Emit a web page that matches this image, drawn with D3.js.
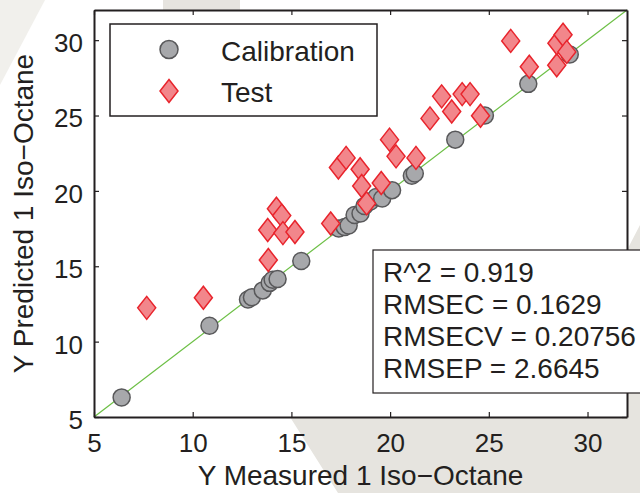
<!DOCTYPE html>
<html>
<head>
<meta charset="utf-8">
<script src="https://cdn.jsdelivr.net/npm/d3@7"></script>
<style>
  body { margin: 0; background: #fff; }
  svg { display: block; font-family: "Liberation Sans", Arial, sans-serif; }
</style>
</head>
<body>
<svg width="640" height="493"></svg>
<script>
// calibration samples: [measured, predicted]
const calibration = [
  [6.4, 6.3], [10.85, 11.05], [12.8, 12.8], [13.0, 12.95], [13.55, 13.4],
  [13.9, 13.9], [14.05, 14.1], [14.3, 14.15], [15.5, 15.35], [17.4, 17.5],
  [17.7, 17.6], [17.9, 17.7], [18.2, 18.4], [18.5, 18.5], [18.7, 19.0],
  [19.0, 19.3], [19.3, 19.6], [19.6, 19.5], [20.1, 20.05], [21.1, 21.0],
  [21.25, 21.15], [23.3, 23.4], [24.8, 25.0], [27.0, 27.1], [29.1, 29.05]
];
// test samples: [measured, predicted]
const test = [
  [7.67, 12.24], [10.54, 12.91], [13.83, 15.41], [14.24, 18.81], [14.51, 18.36],
  [13.8, 17.4], [14.57, 17.2], [15.18, 17.27], [16.99, 17.84], [17.38, 21.55],
  [17.77, 22.19], [18.48, 21.43], [18.56, 20.32], [18.81, 19.17], [19.55, 20.52],
  [19.97, 23.4], [20.3, 22.29], [21.31, 22.19], [22.02, 24.81], [22.61, 26.27],
  [23.12, 25.27], [23.65, 26.42], [24.05, 26.42], [24.58, 24.99], [26.11, 29.95],
  [27.05, 28.23], [28.44, 28.34], [28.45, 29.8], [28.76, 30.36], [28.95, 29.22]
];
const ticks = [5, 10, 15, 20, 25, 30];
const domain = [5, 32];
const legendLabels = ["Calibration", "Test"];
const stats = ["R^2 = 0.919", "RMSEC = 0.1629", "RMSECV = 0.20756", "RMSEP = 2.6645"];

const svg = d3.select("svg");
const margin = { top: 10, right: 13, bottom: 76, left: 94 };
const width = 640 - margin.left - margin.right;
const height = 493 - margin.top - margin.bottom;

// faint background shapes
svg.append("polygon")
  .attr("points", "290,417 627,417 627,250 640,225 640,493 338,493")
  .attr("fill", "#e6e4df");
svg.append("polygon")
  .attr("points", "0,0 45,0 0,85")
  .attr("fill", "#f1f0ec");
svg.append("rect")
  .attr("x", 163).attr("y", 0).attr("width", 77).attr("height", 10)
  .attr("fill", "#e6e4df");

const x = d3.scaleLinear().domain(domain).range([0, width]);
const y = d3.scaleLinear().domain(domain).range([height, 0]);

const g = svg.append("g")
  .attr("transform", "translate(" + margin.left + "," + margin.top + ")");

g.append("rect").attr("width", width).attr("height", height).attr("fill", "#fff");

// 1:1 line
g.append("line")
  .attr("x1", x(domain[0])).attr("y1", y(domain[0]))
  .attr("x2", x(domain[1])).attr("y2", y(domain[1]))
  .attr("stroke", "#6cbf45").attr("stroke-width", 1.2);

g.selectAll(".cal")
  .data(calibration)
  .enter()
  .append("circle")
  .attr("class", "cal")
  .attr("cx", d => x(d[0]))
  .attr("cy", d => y(d[1]))
  .attr("r", 8.5)
  .attr("fill", "#a7a8ab")
  .attr("stroke", "#58585a")
  .attr("stroke-width", 1.5);

const diamond = "M0,-11.5L9,0L0,11.5L-9,0Z";

g.selectAll(".test")
  .data(test)
  .enter()
  .append("path")
  .attr("class", "test")
  .attr("d", diamond)
  .attr("transform", d => "translate(" + x(d[0]) + "," + y(d[1]) + ")")
  .attr("fill", "#f2868b")
  .attr("stroke", "#e8242c")
  .attr("stroke-width", 1.5);

// axes
const styleAxis = sel => {
  sel.select(".domain").attr("stroke", "#231f20").attr("stroke-width", 2);
  sel.selectAll(".tick line").attr("stroke", "#231f20").attr("stroke-width", 1.2);
  sel.selectAll("text").attr("fill", "#231f20").attr("font-size", "26px")
    .attr("font-family", "Liberation Sans, Arial, sans-serif");
};

g.append("g")
  .attr("transform", "translate(0," + height + ")")
  .call(d3.axisBottom(x).tickValues(ticks).tickSizeInner(-5).tickSizeOuter(0).tickPadding(17))
  .call(styleAxis);

g.append("g")
  .call(d3.axisLeft(y).tickValues(ticks).tickSizeInner(-5).tickSizeOuter(0).tickPadding(11))
  .call(styleAxis)
  .selectAll("text").attr("dy", "0.44em");

g.append("g")
  .call(d3.axisTop(x).tickValues(ticks).tickSizeInner(-5).tickSizeOuter(0).tickFormat(""))
  .call(styleAxis);

g.append("g")
  .attr("transform", "translate(" + width + ",0)")
  .call(d3.axisRight(y).tickValues(ticks).tickSizeInner(-5).tickSizeOuter(0).tickFormat(""))
  .call(styleAxis);

// axis labels
svg.append("text")
  .attr("x", margin.left + width / 2)
  .attr("y", 485)
  .attr("text-anchor", "middle")
  .attr("font-size", "28px")
  .attr("fill", "#231f20")
  .text("Y Measured 1 Iso\u2212Octane");

svg.append("text")
  .attr("transform", "translate(33," + (margin.top + height / 2) + ") rotate(-90)")
  .attr("text-anchor", "middle")
  .attr("font-size", "28px")
  .attr("fill", "#231f20")
  .text("Y Predicted 1 Iso\u2212Octane");

// legend
const legend = svg.append("g");
legend.append("rect")
  .attr("x", 110).attr("y", 24).attr("width", 267).attr("height", 92)
  .attr("fill", "#fff").attr("stroke", "#231f20").attr("stroke-width", 1.5);
legend.append("circle")
  .attr("cx", 169).attr("cy", 49.5).attr("r", 9)
  .attr("fill", "#a7a8ab").attr("stroke", "#58585a").attr("stroke-width", 1.5);
legend.append("path")
  .attr("d", diamond)
  .attr("transform", "translate(169,91)")
  .attr("fill", "#f2868b").attr("stroke", "#e8242c").attr("stroke-width", 1.5);
legend.selectAll(".lab")
  .data(legendLabels)
  .enter()
  .append("text")
  .attr("class", "lab")
  .attr("x", 221)
  .attr("y", (d, i) => 61 + i * 41)
  .attr("font-size", "28px")
  .attr("fill", "#231f20")
  .text(d => d);

// stats box
const box = svg.append("g");
box.append("rect")
  .attr("x", 373).attr("y", 250).attr("width", 280).attr("height", 143)
  .attr("fill", "#fff").attr("stroke", "#231f20").attr("stroke-width", 1.2);
box.selectAll(".stat")
  .data(stats)
  .enter()
  .append("text")
  .attr("class", "stat")
  .attr("x", 383)
  .attr("y", (d, i) => 282 + i * 32)
  .attr("font-size", "28px")
  .attr("fill", "#231f20")
  .text(d => d);
</script>
</body>
</html>
